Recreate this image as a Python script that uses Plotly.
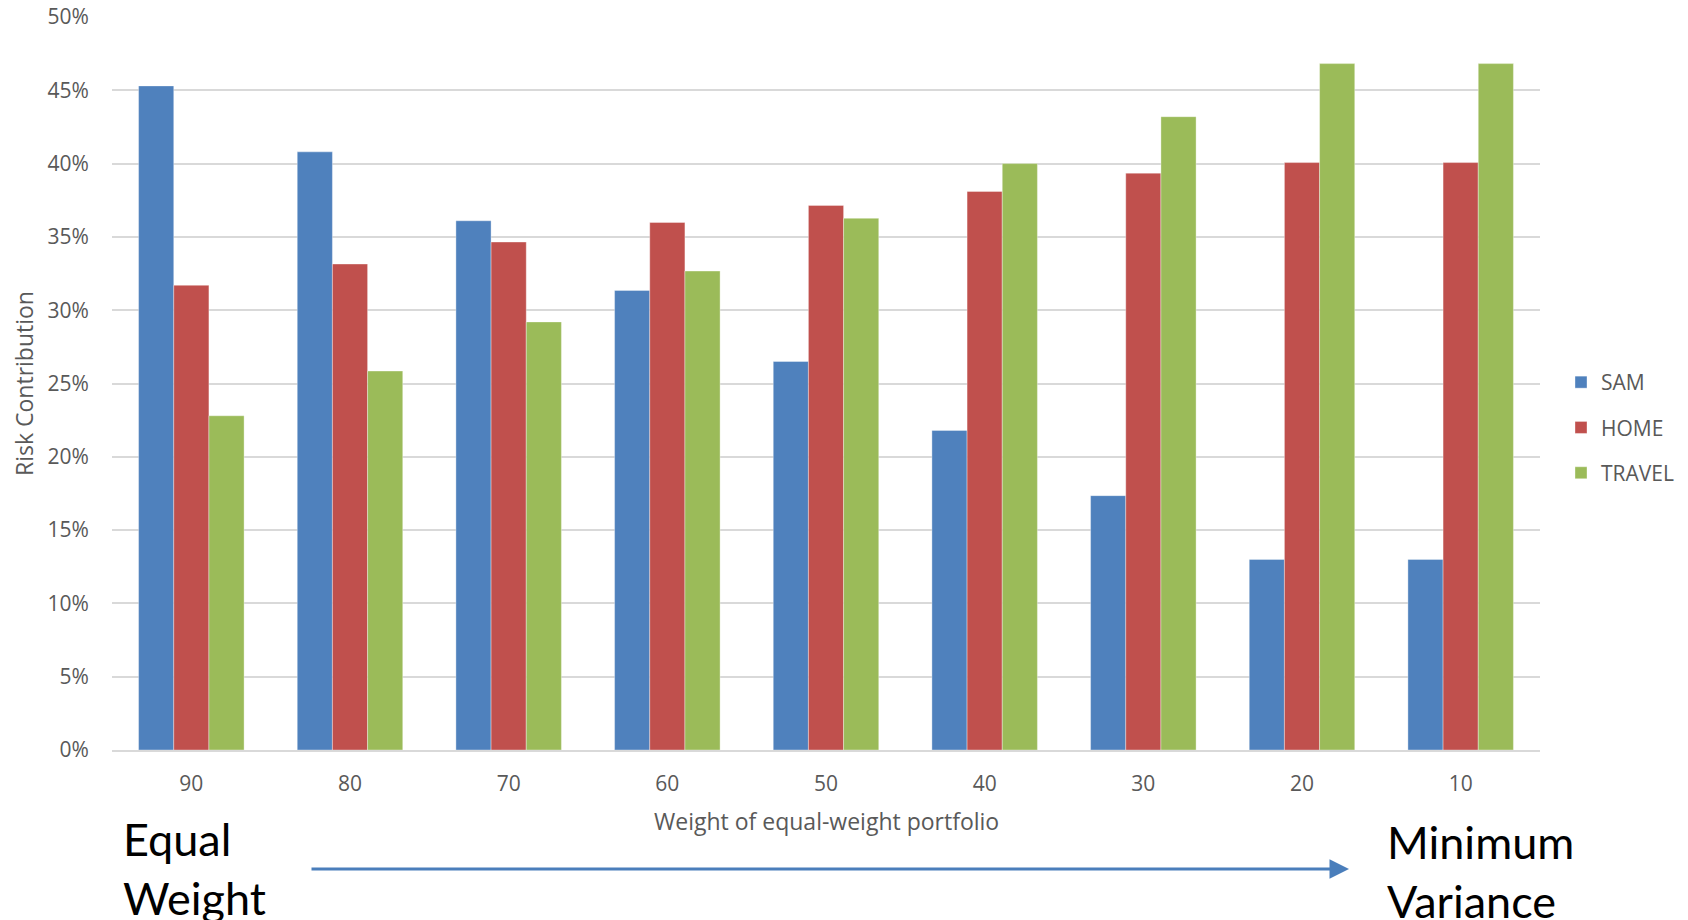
import plotly.graph_objects as go

# Weight of the equal-weight portfolio in the blend (%)
weights = ["90", "80", "70", "60", "50", "40", "30", "20", "10"]

# Risk contribution of each asset (%)
sam = [45.3, 40.8, 36.1, 31.35, 26.5, 21.8, 17.35, 13.0, 13.0]
home = [31.7, 33.15, 34.65, 35.98, 37.15, 38.1, 39.35, 40.07, 40.07]
travel = [22.8, 25.85, 29.2, 32.67, 36.27, 40.0, 43.2, 46.82, 46.82]

series_names = ["SAM", "HOME", "TRAVEL"]
series_values = [sam, home, travel]
series_colors = ["#4F81BD", "#C0504D", "#9BBB59"]

y_ticks = [0, 5, 10, 15, 20, 25, 30, 35, 40, 45, 50]
y_tick_text = [f"{v}%" for v in y_ticks]

FAMILY = "Open Sans, Noto Sans, sans-serif"
tick_font = dict(family=FAMILY, size=21, color="#595959")
title_font = dict(family=FAMILY, size=23, color="#595959")

fig = go.Figure()
for name, vals, col in zip(series_names, series_values, series_colors):
    fig.add_trace(go.Bar(
        x=weights, y=vals, name=name,
        marker=dict(color=col, line=dict(width=0.8, color="rgba(255,255,255,0.45)")),
        legendgroup=name,
    ))

W, H = 1688, 920
L, R, T, B = 112, 148, 17, 170
pw, ph = W - L - R, H - T - B

def px(x):
    return (x - L) / pw

def py(y):
    return (H - B - y) / ph

fig.update_layout(
    width=W, height=H,
    margin=dict(l=L, r=R, t=T, b=B, autoexpand=False),
    paper_bgcolor="white", plot_bgcolor="white",
    barmode="group", bargap=0.335, bargroupgap=0,
    font=tick_font,
    showlegend=True,
    legend=dict(
        x=px(1561), y=py(362), xanchor="left", yanchor="top",
        font=dict(family=FAMILY, size=21, color="#595959"),
        tracegroupgap=15, itemwidth=30, bgcolor="rgba(0,0,0,0)",
    ),
    xaxis=dict(
        type="category", showgrid=False, showline=True, linecolor="#D9D9D9", linewidth=2,
        ticks="outside", ticklen=14, tickcolor="rgba(0,0,0,0)", tickfont=tick_font,
        zeroline=False, automargin=False,
    ),
    yaxis=dict(
        range=[0, 50], tickvals=y_ticks, ticktext=y_tick_text,
        showgrid=True, gridcolor="#D9D9D9", gridwidth=1.6,
        zeroline=False, showline=False, automargin=False,
        ticks="outside", ticklen=18, tickcolor="rgba(0,0,0,0)", tickfont=tick_font,
    ),
)

# axis titles
fig.add_annotation(
    x=px(24), y=py(384), xref="paper", yref="paper", text="Risk Contribution",
    textangle=-90, showarrow=False, xanchor="center", yanchor="middle",
    font=title_font,
)
fig.add_annotation(
    x=0.5, y=py(821), xref="paper", yref="paper", text="Weight of equal-weight portfolio",
    showarrow=False, xanchor="center", yanchor="middle",
    font=title_font,
)

# endpoint labels below the axis
big_font = dict(family="Lato, Open Sans, sans-serif", size=45, color="black")
fig.add_annotation(
    x=px(121), y=py(810), xref="paper", yref="paper", text="Equal<br>Weight",
    showarrow=False, xanchor="left", yanchor="top", align="left", font=big_font,
)
fig.add_annotation(
    x=px(1385), y=py(813), xref="paper", yref="paper", text="Minimum<br>Variance",
    showarrow=False, xanchor="left", yanchor="top", align="left", font=big_font,
)

# direction arrow (tail offset in pixels from the head)
fig.add_annotation(
    x=px(1349), y=py(869), ax=310 - 1349, ay=0,
    xref="paper", yref="paper", axref="pixel", ayref="pixel",
    text="", showarrow=True, arrowhead=2, arrowsize=1.3, arrowwidth=3,
    arrowcolor="#4A7EBB",
)

fig.write_html("out.html")
